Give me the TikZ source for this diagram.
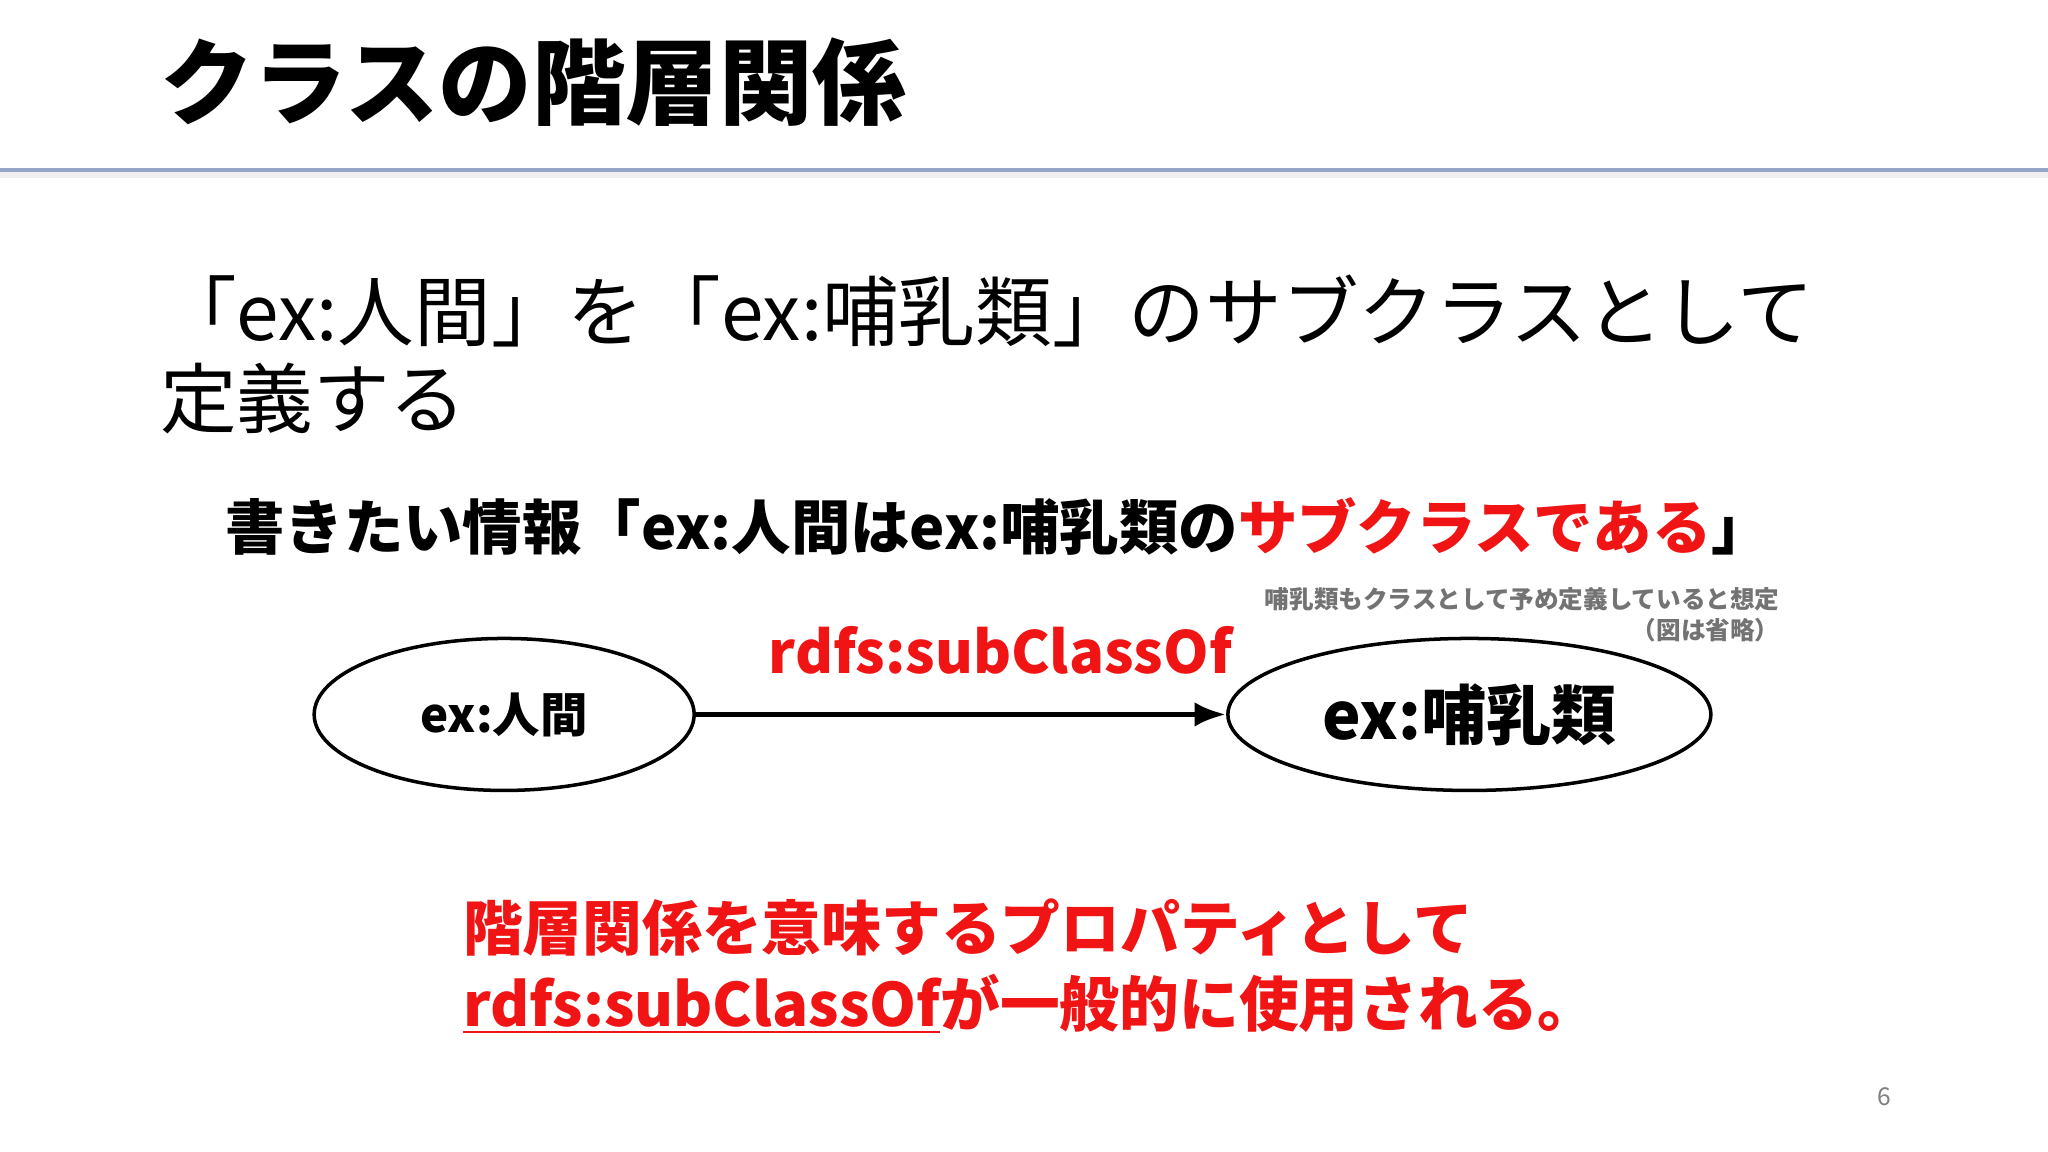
\documentclass[tikz,border=0pt]{standalone}
\usepackage{fontspec}
\setmainfont{Noto Sans CJK JP}
\usetikzlibrary{arrows.meta,shapes.geometric}
\definecolor{rred}{RGB}{240,20,20}
\tikzset{
  ell/.style={draw,ellipse,line width=1pt,minimum height=1.52cm},
  lab/.style={inner sep=0pt,anchor=west},
}
\begin{document}
\begin{tikzpicture}[x=0.013061cm,y=-0.013061cm]
\useasboundingbox (0,0) rectangle (1568,882);
\fill[white] (0,0) rectangle (1568,882);
\fill[black!6] (0,131) rectangle (1568,136);
\draw[color={rgb,255:red,150;green,165;blue,200},line width=1pt] (0,130) -- (1568,130);
\node[lab] (title) at (122,63) {\fontsize{26.6}{30}\selectfont\bfseries クラスの階層関係};
\node[lab] (l1) at (122,238) {\fontsize{21.8}{26}\selectfont 「ex:人間」を「ex:哺乳類」のサブクラスとして};
\node[lab] (l2) at (122,305) {\fontsize{21.8}{26}\selectfont 定義する};
\node[lab] (l3) at (172,403) {\fontsize{16.9}{20}\selectfont\bfseries 書きたい情報「ex:人間はex:哺乳類の\textcolor{rred}{サブクラスである}」};
\node[inner sep=0pt,anchor=east,align=right,text=black!55,font={\fontsize{7}{8.8}\selectfont\bfseries}] (note) at (1363,471) {哺乳類もクラスとして予め定義していると想定\\（図は省略）};
\node[ell,minimum width=3.8cm] (a) at (386,547) {\fontsize{13.5}{16}\selectfont\bfseries ex:人間};
\node[ell,minimum width=4.83cm] (b) at (1125,547) {\fontsize{18.5}{22}\selectfont\bfseries ex:哺乳類};
\draw[line width=1.6pt,-{Latex[length=9pt,width=7pt]}] (a) -- (b);
\node[text=rred,inner sep=0pt] (p) at (766,498) {\fontsize{16.5}{20}\selectfont\bfseries rdfs:subClassOf};
\node[lab,text=rred,align=left,font={\fontsize{17}{21.5}\selectfont\bfseries}] (bot) at (354,740) {階層関係を意味するプロパティとして\\\underline{rdfs:subClassOf}が一般的に使用される。};
\node[text=black!50] (pg) at (1443,840) {\fontsize{7}{8}\selectfont 6};
\end{tikzpicture}
\end{document}
